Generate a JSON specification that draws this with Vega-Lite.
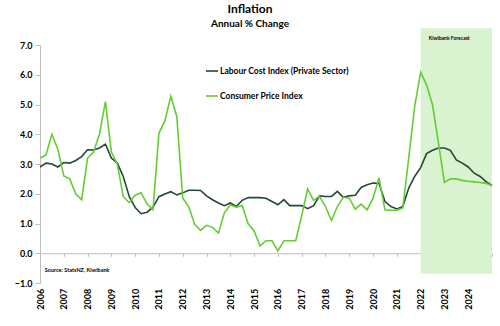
{
  "$schema": "https://vega.github.io/schema/vega-lite/v6.json",
  "width": 452,
  "height": 238,
  "autosize": "none",
  "padding": {"left": 40, "top": 45, "right": 8, "bottom": 43},
  "background": "white",
  "title": {
    "text": "Inflation",
    "subtitle": "Annual % Change",
    "anchor": "middle",
    "frame": "group",
    "dx": -16,
    "offset": -2,
    "font": "Lato",
    "fontSize": 12,
    "fontWeight": "bold",
    "color": "black",
    "subtitleFont": "Lato",
    "subtitleFontSize": 10,
    "subtitleFontWeight": "bold",
    "subtitleColor": "black",
    "subtitlePadding": 3
  },
  "config": {
    "view": {"stroke": null},
    "font": "Lato",
    "axis": {
      "labelOverlap": false,
      "tickCount": 40,
      "labelFont": "Lato",
      "labelFontSize": 9,
      "labelFontWeight": "bold",
      "labelColor": "black",
      "domainColor": "#bfbfbf",
      "tickColor": "#bfbfbf",
      "grid": false,
      "title": null,
      "zindex": 1
    },
    "axisX": {
      "offset": -29.75,
      "tickSize": 3,
      "labelAngle": -90,
      "labelPadding": 32
    },
    "axisY": {
      "tickSize": 5,
      "labelPadding": 3
    }
  },
  "layer": [
    {
      "data": {"values": [{}]},
      "mark": {"type": "rect", "color": "#d9f2cf"},
      "encoding": {
        "x": {"datum": 2022, "type": "quantitative", "scale": {"domain": [2006, 2025], "nice": false, "zero": false}, "axis": {"values": [2006, 2007, 2008, 2009, 2010, 2011, 2012, 2013, 2014, 2015, 2016, 2017, 2018, 2019, 2020, 2021, 2022, 2023, 2024, 2025], "labelExpr": "datum.value == 2025 ? '' : datum.value", "tickCount": 40}},
        "x2": {"datum": 2025},
        "y": {"datum": -0.69, "type": "quantitative", "scale": {"domain": [-1, 7], "nice": false}, "axis": {"values": [-1, 0, 1, 2, 3, 4, 5, 6, 7], "format": ".1f", "tickCount": 40}},
        "y2": {"datum": 7.56}
      }
    },
    {
      "data": {
        "values": [
          {"t": 2006.0, "Labour Cost Index (Private Sector)": 2.90, "Consumer Price Index": 3.2},
          {"t": 2006.25, "Labour Cost Index (Private Sector)": 3.03, "Consumer Price Index": 3.3},
          {"t": 2006.5, "Labour Cost Index (Private Sector)": 3.00, "Consumer Price Index": 4.0},
          {"t": 2006.75, "Labour Cost Index (Private Sector)": 2.90, "Consumer Price Index": 3.5},
          {"t": 2007.0, "Labour Cost Index (Private Sector)": 3.05, "Consumer Price Index": 2.6},
          {"t": 2007.25, "Labour Cost Index (Private Sector)": 3.03, "Consumer Price Index": 2.5},
          {"t": 2007.5, "Labour Cost Index (Private Sector)": 3.12, "Consumer Price Index": 2.0},
          {"t": 2007.75, "Labour Cost Index (Private Sector)": 3.25, "Consumer Price Index": 1.8},
          {"t": 2008.0, "Labour Cost Index (Private Sector)": 3.48, "Consumer Price Index": 3.2},
          {"t": 2008.25, "Labour Cost Index (Private Sector)": 3.47, "Consumer Price Index": 3.4},
          {"t": 2008.5, "Labour Cost Index (Private Sector)": 3.54, "Consumer Price Index": 4.0},
          {"t": 2008.75, "Labour Cost Index (Private Sector)": 3.67, "Consumer Price Index": 5.1},
          {"t": 2009.0, "Labour Cost Index (Private Sector)": 3.20, "Consumer Price Index": 3.4},
          {"t": 2009.25, "Labour Cost Index (Private Sector)": 3.03, "Consumer Price Index": 3.0},
          {"t": 2009.5, "Labour Cost Index (Private Sector)": 2.58, "Consumer Price Index": 1.9},
          {"t": 2009.75, "Labour Cost Index (Private Sector)": 1.91, "Consumer Price Index": 1.7},
          {"t": 2010.0, "Labour Cost Index (Private Sector)": 1.54, "Consumer Price Index": 1.95},
          {"t": 2010.25, "Labour Cost Index (Private Sector)": 1.33, "Consumer Price Index": 2.03},
          {"t": 2010.5, "Labour Cost Index (Private Sector)": 1.38, "Consumer Price Index": 1.66},
          {"t": 2010.75, "Labour Cost Index (Private Sector)": 1.55, "Consumer Price Index": 1.46},
          {"t": 2011.0, "Labour Cost Index (Private Sector)": 1.90, "Consumer Price Index": 4.04},
          {"t": 2011.25, "Labour Cost Index (Private Sector)": 1.99, "Consumer Price Index": 4.45},
          {"t": 2011.5, "Labour Cost Index (Private Sector)": 2.07, "Consumer Price Index": 5.28},
          {"t": 2011.75, "Labour Cost Index (Private Sector)": 1.96, "Consumer Price Index": 4.6},
          {"t": 2012.0, "Labour Cost Index (Private Sector)": 2.03, "Consumer Price Index": 1.85},
          {"t": 2012.25, "Labour Cost Index (Private Sector)": 2.12, "Consumer Price Index": 1.57},
          {"t": 2012.5, "Labour Cost Index (Private Sector)": 2.12, "Consumer Price Index": 0.97},
          {"t": 2012.75, "Labour Cost Index (Private Sector)": 2.11, "Consumer Price Index": 0.77},
          {"t": 2013.0, "Labour Cost Index (Private Sector)": 1.93, "Consumer Price Index": 0.94},
          {"t": 2013.25, "Labour Cost Index (Private Sector)": 1.80, "Consumer Price Index": 0.87},
          {"t": 2013.5, "Labour Cost Index (Private Sector)": 1.69, "Consumer Price Index": 0.68},
          {"t": 2013.75, "Labour Cost Index (Private Sector)": 1.60, "Consumer Price Index": 1.36},
          {"t": 2014.0, "Labour Cost Index (Private Sector)": 1.69, "Consumer Price Index": 1.63},
          {"t": 2014.25, "Labour Cost Index (Private Sector)": 1.57, "Consumer Price Index": 1.55},
          {"t": 2014.5, "Labour Cost Index (Private Sector)": 1.78, "Consumer Price Index": 1.6},
          {"t": 2014.75, "Labour Cost Index (Private Sector)": 1.87, "Consumer Price Index": 0.99},
          {"t": 2015.0, "Labour Cost Index (Private Sector)": 1.87, "Consumer Price Index": 0.75},
          {"t": 2015.25, "Labour Cost Index (Private Sector)": 1.87, "Consumer Price Index": 0.25},
          {"t": 2015.5, "Labour Cost Index (Private Sector)": 1.85, "Consumer Price Index": 0.42},
          {"t": 2015.75, "Labour Cost Index (Private Sector)": 1.74, "Consumer Price Index": 0.42},
          {"t": 2016.0, "Labour Cost Index (Private Sector)": 1.63, "Consumer Price Index": 0.08},
          {"t": 2016.25, "Labour Cost Index (Private Sector)": 1.80, "Consumer Price Index": 0.42},
          {"t": 2016.5, "Labour Cost Index (Private Sector)": 1.60, "Consumer Price Index": 0.42},
          {"t": 2016.75, "Labour Cost Index (Private Sector)": 1.60, "Consumer Price Index": 0.42},
          {"t": 2017.0, "Labour Cost Index (Private Sector)": 1.60, "Consumer Price Index": 1.26},
          {"t": 2017.25, "Labour Cost Index (Private Sector)": 1.50, "Consumer Price Index": 2.16},
          {"t": 2017.5, "Labour Cost Index (Private Sector)": 1.60, "Consumer Price Index": 1.78},
          {"t": 2017.75, "Labour Cost Index (Private Sector)": 1.93, "Consumer Price Index": 1.91},
          {"t": 2018.0, "Labour Cost Index (Private Sector)": 1.91, "Consumer Price Index": 1.57},
          {"t": 2018.25, "Labour Cost Index (Private Sector)": 1.91, "Consumer Price Index": 1.10},
          {"t": 2018.5, "Labour Cost Index (Private Sector)": 2.08, "Consumer Price Index": 1.57},
          {"t": 2018.75, "Labour Cost Index (Private Sector)": 1.88, "Consumer Price Index": 1.88},
          {"t": 2019.0, "Labour Cost Index (Private Sector)": 1.93, "Consumer Price Index": 1.85},
          {"t": 2019.25, "Labour Cost Index (Private Sector)": 1.95, "Consumer Price Index": 1.48},
          {"t": 2019.5, "Labour Cost Index (Private Sector)": 2.21, "Consumer Price Index": 1.65},
          {"t": 2019.75, "Labour Cost Index (Private Sector)": 2.30, "Consumer Price Index": 1.46},
          {"t": 2020.0, "Labour Cost Index (Private Sector)": 2.36, "Consumer Price Index": 1.85},
          {"t": 2020.25, "Labour Cost Index (Private Sector)": 2.35, "Consumer Price Index": 2.53},
          {"t": 2020.5, "Labour Cost Index (Private Sector)": 1.74, "Consumer Price Index": 1.46},
          {"t": 2020.75, "Labour Cost Index (Private Sector)": 1.57, "Consumer Price Index": 1.44},
          {"t": 2021.0, "Labour Cost Index (Private Sector)": 1.49, "Consumer Price Index": 1.45},
          {"t": 2021.25, "Labour Cost Index (Private Sector)": 1.57, "Consumer Price Index": 1.52},
          {"t": 2021.5, "Labour Cost Index (Private Sector)": 2.19, "Consumer Price Index": 3.2},
          {"t": 2021.75, "Labour Cost Index (Private Sector)": 2.58, "Consumer Price Index": 4.94},
          {"t": 2022.0, "Labour Cost Index (Private Sector)": 2.88, "Consumer Price Index": 6.08},
          {"t": 2022.25, "Labour Cost Index (Private Sector)": 3.35, "Consumer Price Index": 5.66},
          {"t": 2022.5, "Labour Cost Index (Private Sector)": 3.46, "Consumer Price Index": 4.99},
          {"t": 2022.75, "Labour Cost Index (Private Sector)": 3.54, "Consumer Price Index": 3.70},
          {"t": 2023.0, "Labour Cost Index (Private Sector)": 3.54, "Consumer Price Index": 2.38},
          {"t": 2023.25, "Labour Cost Index (Private Sector)": 3.46, "Consumer Price Index": 2.50},
          {"t": 2023.5, "Labour Cost Index (Private Sector)": 3.14, "Consumer Price Index": 2.50},
          {"t": 2023.75, "Labour Cost Index (Private Sector)": 3.03, "Consumer Price Index": 2.45},
          {"t": 2024.0, "Labour Cost Index (Private Sector)": 2.90, "Consumer Price Index": 2.42},
          {"t": 2024.25, "Labour Cost Index (Private Sector)": 2.69, "Consumer Price Index": 2.40},
          {"t": 2024.5, "Labour Cost Index (Private Sector)": 2.58, "Consumer Price Index": 2.38},
          {"t": 2024.75, "Labour Cost Index (Private Sector)": 2.41, "Consumer Price Index": 2.35},
          {"t": 2025.0, "Labour Cost Index (Private Sector)": 2.27, "Consumer Price Index": 2.27}
        ]
      },
      "transform": [
        {"fold": ["Labour Cost Index (Private Sector)", "Consumer Price Index"], "as": ["series", "value"]}
      ],
      "mark": {"type": "line", "strokeWidth": 1.6},
      "encoding": {
        "x": {"field": "t", "type": "quantitative"},
        "y": {"field": "value", "type": "quantitative"},
        "color": {
          "field": "series",
          "type": "nominal",
          "scale": {
            "domain": ["Labour Cost Index (Private Sector)", "Consumer Price Index"],
            "range": ["#23473a", "#66cc33"]
          },
          "legend": {
            "title": null,
            "orient": "none",
            "legendX": 165,
            "legendY": 19,
            "symbolType": "stroke",
            "symbolSize": 144,
            "symbolStrokeWidth": 1.6,
            "labelFont": "Lato",
            "labelFontSize": 8.5,
            "labelFontWeight": "bold",
            "labelColor": "black",
            "labelOffset": 1,
            "rowPadding": 13
          }
        }
      }
    },
    {
      "data": {"values": [{}]},
      "mark": {"type": "text", "align": "left", "baseline": "middle", "font": "Lato", "fontSize": 5.5, "fontWeight": "bold", "color": "black"},
      "encoding": {
        "x": {"datum": 2006.2, "type": "quantitative"},
        "y": {"datum": -0.55, "type": "quantitative"},
        "text": {"value": "Source: StatsNZ, Kiwibank"}
      }
    },
    {
      "data": {"values": [{}]},
      "mark": {"type": "text", "align": "left", "baseline": "middle", "font": "Lato", "fontSize": 5, "fontWeight": "bold", "color": "black"},
      "encoding": {
        "x": {"datum": 2022.34, "type": "quantitative"},
        "y": {"datum": 7.23, "type": "quantitative"},
        "text": {"value": "Kiwibank Forecast"}
      }
    }
  ]
}
